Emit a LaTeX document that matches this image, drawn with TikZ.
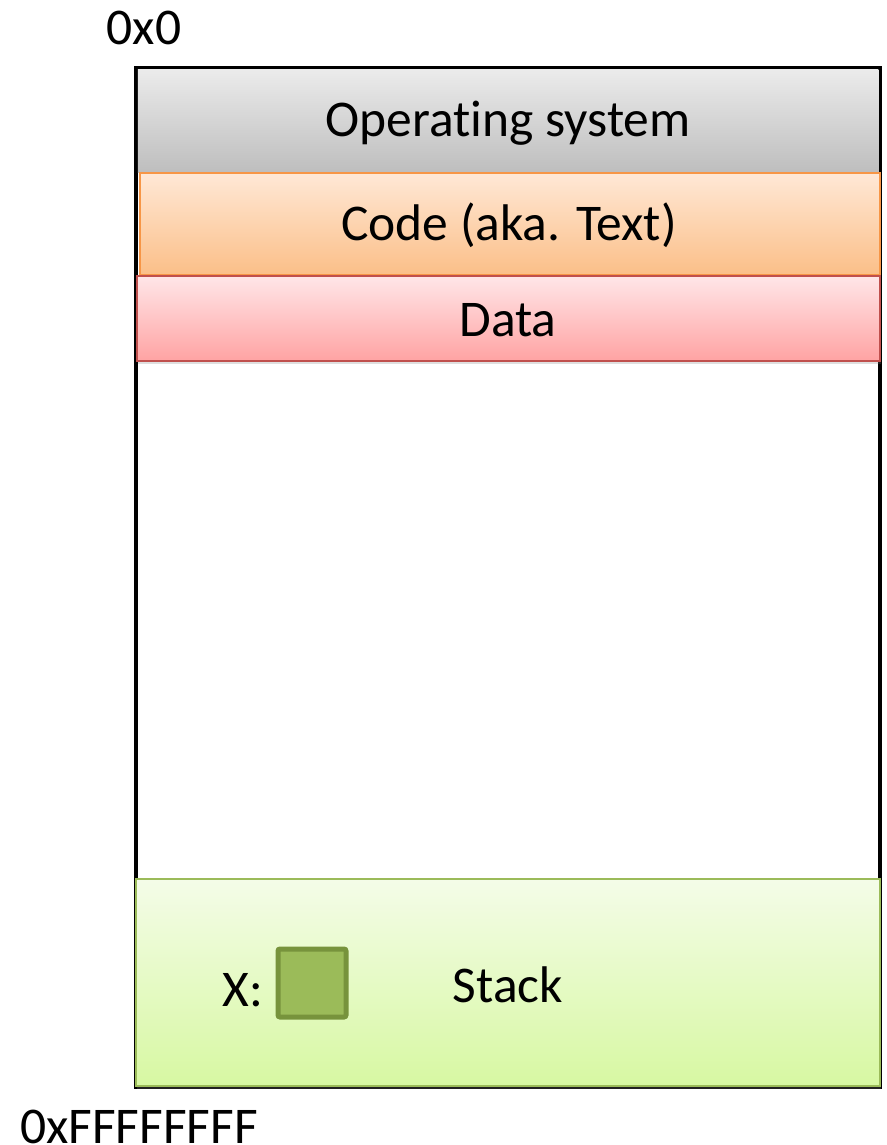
\documentclass[tikz,border=0pt]{standalone}
\usepackage{fontspec}
\setmainfont[Ligatures=NoCommon]{Carlito}
\usetikzlibrary{shadows}
\definecolor{osTop}{HTML}{EBEBEB}
\definecolor{osBot}{HTML}{BEBEBE}
\definecolor{codeTop}{HTML}{FFE8D6}
\definecolor{codeBot}{HTML}{FBBF88}
\definecolor{codeLine}{HTML}{F79646}
\definecolor{dataTop}{HTML}{FFE6E8}
\definecolor{dataBot}{HTML}{FFA3A3}
\definecolor{dataLine}{HTML}{C0504D}
\definecolor{stTop}{HTML}{F4FCE8}
\definecolor{stBot}{HTML}{D7F8A2}
\definecolor{stLine}{HTML}{9BBB59}
\definecolor{xFill}{HTML}{9BBB59}
\definecolor{xLine}{HTML}{77933C}
\tikzset{
  lbl/.style={font=\fontsize{51.5}{60}\selectfont, text=black, inner sep=0pt},
  seg/.style={draw, line width=1.5pt, drop shadow={shadow xshift=1pt, shadow yshift=-3pt, opacity=0.25}},
}
\begin{document}
\begin{tikzpicture}[x=1pt,y=-1pt]
\useasboundingbox (0,0) rectangle (886,1145);
% outer memory box
\draw[line width=3.5pt, fill=white] (136,68) rectangle (880,1087);
% OS
\path[top color=osTop, bottom color=osBot] (137.75,69.75) rectangle (878.25,172);
\node[lbl] (os) at (508,123) {Operating system};
% Code
\draw[seg, draw=codeLine, top color=codeTop, bottom color=codeBot] (140,173) rectangle (880,275);
\node[lbl] (code) at (509,225) {Code (aka. Text)};
% Data
\draw[seg, draw=dataLine, top color=dataTop, bottom color=dataBot] (137,276) rectangle (880,361);
\node[lbl] (data) at (508,320) {Data};
% Stack
\draw[seg, draw=stLine, top color=stTop, bottom color=stBot] (136,879) rectangle (880,1086);
\node[lbl] (stack) at (508,985) {Stack};
\node[lbl] (xl) at (243,990) {X:};
\draw[draw=xLine, fill=xFill, line width=5pt, rounded corners=2pt] (278,949) rectangle (346,1017);
% addresses
\node[lbl] (a0) at (144,28) {0x0};
\node[lbl] (aF) at (139,1127) {0xFFFFFFFF};
\end{tikzpicture}
\end{document}
